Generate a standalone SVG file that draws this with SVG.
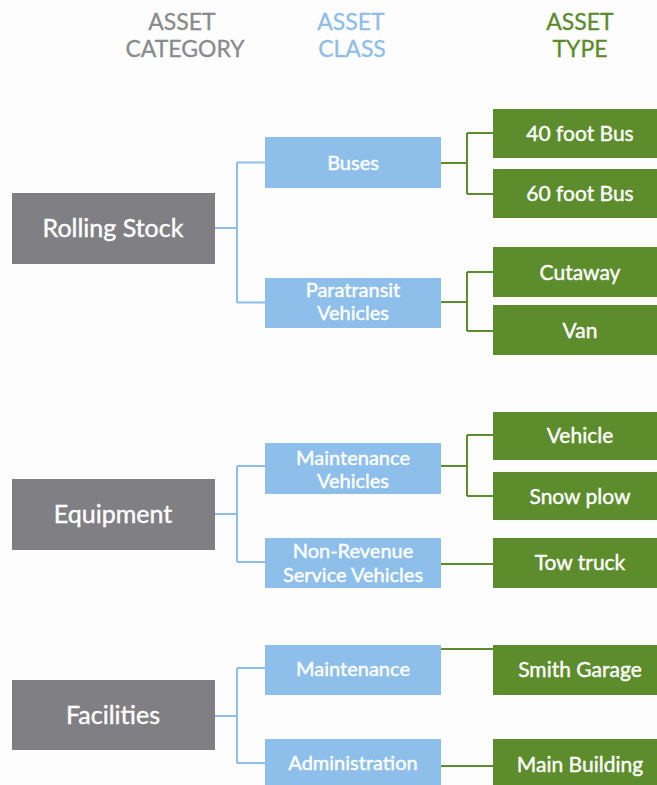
<svg xmlns="http://www.w3.org/2000/svg" width="657" height="785" viewBox="0 0 657 785">
  <style>
    text { font-family: Lato, "Open Sans", "Liberation Sans", sans-serif; text-anchor: middle; }
    .hdr { font-size: 23px; stroke-width: 0.3; }
    .hdr-cat { fill: #8a8a8c; stroke: #8a8a8c; }
    .hdr-cls { fill: #8fbde8; stroke: #8fbde8; }
    .hdr-typ { fill: #5b8a2c; stroke: #5b8a2c; }
    .cat rect { fill: #808084; }
    .cls rect { fill: #8ebfea; }
    .typ rect { fill: #5c8c2c; }
    .cat text, .cls text, .typ text { fill: #ffffff; stroke: #ffffff; stroke-width: 0.4; }
    .cat text { font-size: 25px; }
    .cls text { font-size: 20px; }
    .typ text { font-size: 21px; }
    .wire { fill: none; stroke-width: 2; }
    .wire-blue { stroke: #8ebfea; }
    .wire-green { stroke: #5c8c2c; }
  </style>

  <rect x="0" y="0" width="657" height="785" fill="#fdfdfd"/>

  <!-- column headers -->
  <g id="header-category" class="hdr hdr-cat">
    <text x="182" y="30">ASSET</text>
    <text x="185" y="57">CATEGORY</text>
  </g>
  <g id="header-class" class="hdr hdr-cls">
    <text x="351" y="30">ASSET</text>
    <text x="352" y="57">CLASS</text>
  </g>
  <g id="header-type" class="hdr hdr-typ">
    <text x="580" y="30">ASSET</text>
    <text x="580" y="57">TYPE</text>
  </g>

  <!-- connectors -->
  <g id="connectors">
    <path class="wire wire-blue" d="M215 228 H237 M237 162.5 V302.5 M237 162.5 H265 M237 302.5 H265"/>
    <path class="wire wire-blue" d="M215 514 H237 M237 466 V562 M237 466 H265 M237 562 H265"/>
    <path class="wire wire-blue" d="M215 716 H237 M237 668 V763 M237 668 H265 M237 763 H265"/>
    <path class="wire wire-green" d="M441 163 H467 M467 133 V194 M467 133 H493 M467 194 H493"/>
    <path class="wire wire-green" d="M441 302 H467 M467 272 V331 M467 272 H493 M467 331 H493"/>
    <path class="wire wire-green" d="M441 466 H467 M467 435 V496 M467 435 H493 M467 496 H493"/>
    <path class="wire wire-green" d="M441 564 H493"/>
    <path class="wire wire-green" d="M441 649 H493"/>
    <path class="wire wire-green" d="M441 766 H493"/>
  </g>

  <!-- asset categories -->
  <g id="cat-rolling-stock" class="cat">
    <rect x="12" y="193" width="203" height="71"/>
    <text x="113" y="237">Rolling Stock</text>
  </g>
  <g id="cat-equipment" class="cat">
    <rect x="12" y="479" width="203" height="71"/>
    <text x="113" y="523">Equipment</text>
  </g>
  <g id="cat-facilities" class="cat">
    <rect x="12" y="680" width="203" height="70"/>
    <text x="113" y="724">Facilities</text>
  </g>

  <!-- asset classes -->
  <g id="cls-buses" class="cls">
    <rect x="265" y="137" width="176" height="51"/>
    <text x="353" y="170">Buses</text>
  </g>
  <g id="cls-paratransit" class="cls">
    <rect x="265" y="278" width="176" height="50"/>
    <text x="353" y="297">Paratransit</text>
    <text x="353" y="320">Vehicles</text>
  </g>
  <g id="cls-maintenance-vehicles" class="cls">
    <rect x="265" y="443" width="176" height="51"/>
    <text x="353" y="465">Maintenance</text>
    <text x="353" y="488">Vehicles</text>
  </g>
  <g id="cls-non-revenue" class="cls">
    <rect x="265" y="538" width="176" height="50"/>
    <text x="353" y="558">Non-Revenue</text>
    <text x="353" y="582">Service Vehicles</text>
  </g>
  <g id="cls-maintenance" class="cls">
    <rect x="265" y="645" width="176" height="50"/>
    <text x="353" y="676">Maintenance</text>
  </g>
  <g id="cls-administration" class="cls">
    <rect x="265" y="739" width="176" height="50"/>
    <text x="353" y="770">Administration</text>
  </g>

  <!-- asset types -->
  <g id="typ-40ft-bus" class="typ">
    <rect x="493" y="109" width="170" height="49"/>
    <text x="580" y="141">40 foot Bus</text>
  </g>
  <g id="typ-60ft-bus" class="typ">
    <rect x="493" y="169" width="170" height="49"/>
    <text x="580" y="201">60 foot Bus</text>
  </g>
  <g id="typ-cutaway" class="typ">
    <rect x="493" y="247" width="170" height="50"/>
    <text x="580" y="280">Cutaway</text>
  </g>
  <g id="typ-van" class="typ">
    <rect x="493" y="305" width="170" height="50"/>
    <text x="580" y="338">Van</text>
  </g>
  <g id="typ-vehicle" class="typ">
    <rect x="493" y="412" width="170" height="48"/>
    <text x="580" y="443">Vehicle</text>
  </g>
  <g id="typ-snow-plow" class="typ">
    <rect x="493" y="472" width="170" height="48"/>
    <text x="580" y="504">Snow plow</text>
  </g>
  <g id="typ-tow-truck" class="typ">
    <rect x="493" y="538" width="170" height="50"/>
    <text x="580" y="570">Tow truck</text>
  </g>
  <g id="typ-smith-garage" class="typ">
    <rect x="493" y="645" width="170" height="50"/>
    <text x="580" y="677">Smith Garage</text>
  </g>
  <g id="typ-main-building" class="typ">
    <rect x="493" y="739" width="170" height="50"/>
    <text x="580" y="772">Main Building</text>
  </g>
</svg>
